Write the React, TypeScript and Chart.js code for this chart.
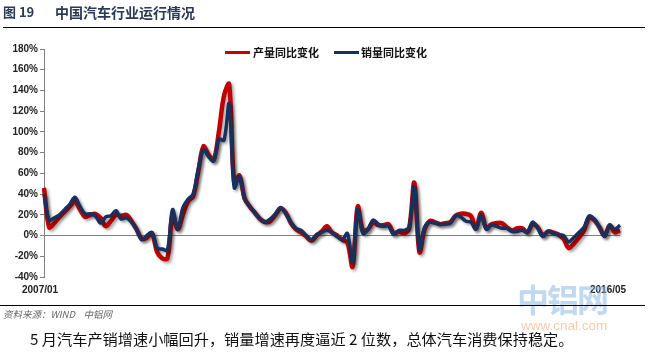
import React, { useEffect, useRef } from "react";
import { Chart, registerables } from "chart.js";

Chart.register(...registerables);

const titleNo = "图 19";
const titleText = "中国汽车行业运行情况";
const seriesNames = ["产量同比变化", "销量同比变化"];
const firstLabel = "2007/01";
const lastLabel = "2016/05";
const sourceText = "资料来源：WIND    中铝网";
const noteText = "5 月汽车产销增速小幅回升，销量增速再度逼近 2 位数，总体汽车消费保持稳定。";

const months: string[] = [];
for (let y = 2007; y <= 2016; y++) {
  for (let m = 1; m <= 12; m++) {
    if (y === 2016 && m > 5) break;
    months.push(`${y}/${m < 10 ? "0" + m : m}`);
  }
}

// 产量同比 (%)
const productionYoY = [
  46, 8, 12, 18, 23, 28, 33, 25, 18, 20, 21, 17,
  9, 14, 20, 19, 20, 14, 6, -3, -2, 2, -16, -22,
  -22, 20, 6, 20, 33, 38, 62, 86, 78, 73, 100, 135,
  146, 50, 58, 36, 28, 22, 16, 13, 14, 20, 26, 22,
  12, 6, 3, -1, -5, 0, 4, 9, 3, 0, -4, -7,
  -30, 28, 5, 6, 13, 10, 10, 11, 2, 4, 2, 7,
  51, -16, 6, 14, 13, 11, 12, 13, 19, 21, 21, 19,
  7, 22, 7, 11, 12, 12, 8, 5, 7, 7, 3, 11,
  8, 0, 4, 3, 1, -3, -12, -8, -2, 5, 17, 15,
  8, 0, 10, 3, 5,
];

// 销量同比 (%)
const salesYoY = [
  40, 15, 17, 20, 25, 30, 37, 28, 21, 21, 19, 12,
  18, 19, 24, 16, 17, 13, 6, -4, 0, 3, -12, -13,
  -14, 25, 6, 27, 35, 40, 64, 83, 76, 72, 93, 92,
  127, 46, 57, 35, 28, 22, 16, 13, 16, 21, 27, 21,
  13, 7, 5, 0, -4, 1, 3, 5, 3, -1, -4, 2,
  -26, 25, 2, 6, 15, 11, 9, 9, 1, 5, 5, 8,
  47, -13, 8, 13, 12, 11, 11, 12, 19, 18, 14, 13,
  6, 20, 6, 10, 9, 7, 7, 4, 4, 5, 3, 13,
  7, -1, 4, 2, 1, 0, -6, -2, 3, 8, 19, 16,
  8, -1, 10, 6, 10,
];

const yMin = -40;
const yMax = 180;
const yStep = 20;

const RED = "#C00000";
const NAVY = "#17305E";

const shadowPlugin = {
  id: "lineShadow",
  beforeDatasetDraw(chart: any) {
    const ctx = chart.ctx;
    ctx.save();
    ctx.shadowColor = "rgba(0,0,0,0.35)";
    ctx.shadowBlur = 3;
    ctx.shadowOffsetX = 2;
    ctx.shadowOffsetY = 2;
  },
  afterDatasetDraw(chart: any) {
    chart.ctx.restore();
  },
};

export default function App() {
  const canvasRef = useRef<HTMLCanvasElement | null>(null);

  useEffect(() => {
    document.body.style.margin = "0";
    const canvas = canvasRef.current;
    if (!canvas) return;
    const chart = new Chart(canvas, {
      type: "line",
      data: {
        labels: months,
        datasets: [
          {
            label: seriesNames[0],
            data: productionYoY,
            borderColor: RED,
            borderWidth: 4.5,
            pointRadius: 0,
            tension: 0.35,
            order: 1,
          },
          {
            label: seriesNames[1],
            data: salesYoY,
            borderColor: NAVY,
            borderWidth: 3.5,
            pointRadius: 0,
            tension: 0.35,
            order: 0,
          },
        ],
      },
      options: {
        animation: false,
        responsive: false,
        maintainAspectRatio: false,
        layout: { padding: { left: 0, right: 33, top: 49, bottom: 78 } },
        plugins: { legend: { display: false }, tooltip: { enabled: false } },
        scales: {
          x: {
            display: false,
            offset: false,
          },
          y: {
            min: yMin,
            max: yMax,
            afterFit: (s: any) => {
              s.width = 44;
            },
            ticks: {
              stepSize: yStep,
              padding: 2,
              color: "#222",
              font: { family: "Liberation Sans, Arial, sans-serif", size: 10, weight: "bold" },
              callback: (v: any) => `${v}%`,
            },
            grid: {
              drawOnChartArea: true,
              drawTicks: true,
              tickLength: 4,
              tickColor: "#808080",
              color: (c: any) => (c.tick && c.tick.value === 0 ? "#808080" : "rgba(0,0,0,0)"),
              lineWidth: 1,
            },
            border: { display: true, color: "#808080", width: 1 },
          },
        },
      },
      plugins: [shadowPlugin],
    });
    return () => chart.destroy();
  }, []);

  const cjk = "'Noto Sans CJK SC', 'Liberation Sans', sans-serif";

  return (
    <div style={{ position: "fixed", left: 0, top: 0, width: 653, height: 355, background: "#fff", overflow: "hidden" }}>
      <canvas ref={canvasRef} width={653} height={355} style={{ position: "absolute", left: 0, top: 0, width: 653, height: 355 }} />
      {/* title */}
      <div style={{ position: "absolute", left: 3, top: 3, fontFamily: cjk, fontWeight: "bold", fontSize: 13, color: "#2A3A55", whiteSpace: "nowrap", lineHeight: "18px" }}>
        {titleNo}
      </div>
      <div style={{ position: "absolute", left: 55, top: 3, fontFamily: cjk, fontWeight: "bold", fontSize: 14, color: "#2A3A55", whiteSpace: "nowrap", lineHeight: "18px" }}>
        {titleText}
      </div>
      <div style={{ position: "absolute", left: 3, top: 27, width: 642, height: 0, borderTop: "1.5px solid #000" }} />
      {/* legend */}
      <div style={{ position: "absolute", left: 225, top: 51, width: 25, height: 3, background: RED }} />
      <div style={{ position: "absolute", left: 253, top: 44, fontFamily: cjk, fontWeight: "bold", fontSize: 11, color: "#111", whiteSpace: "nowrap", lineHeight: "16px" }}>
        {seriesNames[0]}
      </div>
      <div style={{ position: "absolute", left: 334, top: 51, width: 25, height: 3, background: NAVY }} />
      <div style={{ position: "absolute", left: 361, top: 44, fontFamily: cjk, fontWeight: "bold", fontSize: 11, color: "#111", whiteSpace: "nowrap", lineHeight: "16px" }}>
        {seriesNames[1]}
      </div>
      {/* x labels */}
      <div style={{ position: "absolute", left: 22, top: 283, fontFamily: "Liberation Sans, Arial, sans-serif", fontWeight: "bold", fontSize: 10, color: "#222", lineHeight: "14px" }}>
        {firstLabel}
      </div>
      <div style={{ position: "absolute", left: 590, top: 283, fontFamily: "Liberation Sans, Arial, sans-serif", fontWeight: "bold", fontSize: 10, color: "#222", lineHeight: "14px" }}>
        {lastLabel}
      </div>
      {/* watermark */}
      <div style={{ position: "absolute", left: 517, top: 277, fontFamily: cjk, fontWeight: "bold", fontSize: 32, color: "rgba(130,178,225,0.5)", whiteSpace: "nowrap", lineHeight: "42px", letterSpacing: -2 }}>
        中铝网
      </div>
      <div style={{ position: "absolute", left: 521, top: 318, fontFamily: "Liberation Sans, Arial, sans-serif", fontSize: 13.5, color: "rgba(240,160,100,0.55)", whiteSpace: "nowrap", lineHeight: "16px" }}>
        www.cnal.com
      </div>
      <div style={{ position: "absolute", left: 0, top: 305, width: 645, height: 0, borderTop: "1px solid #000" }} />
      {/* source */}
      <div style={{ position: "absolute", left: 3, top: 307, fontFamily: cjk, fontStyle: "italic", fontSize: 9.5, color: "#666", whiteSpace: "pre", lineHeight: "14px" }}>
        {sourceText}
      </div>
      {/* note */}
      <div style={{ position: "absolute", left: 30, top: 328, fontFamily: cjk, fontSize: 15.2, color: "#111", whiteSpace: "pre", lineHeight: "20px" }}>
        {noteText}
      </div>
    </div>
  );
}
